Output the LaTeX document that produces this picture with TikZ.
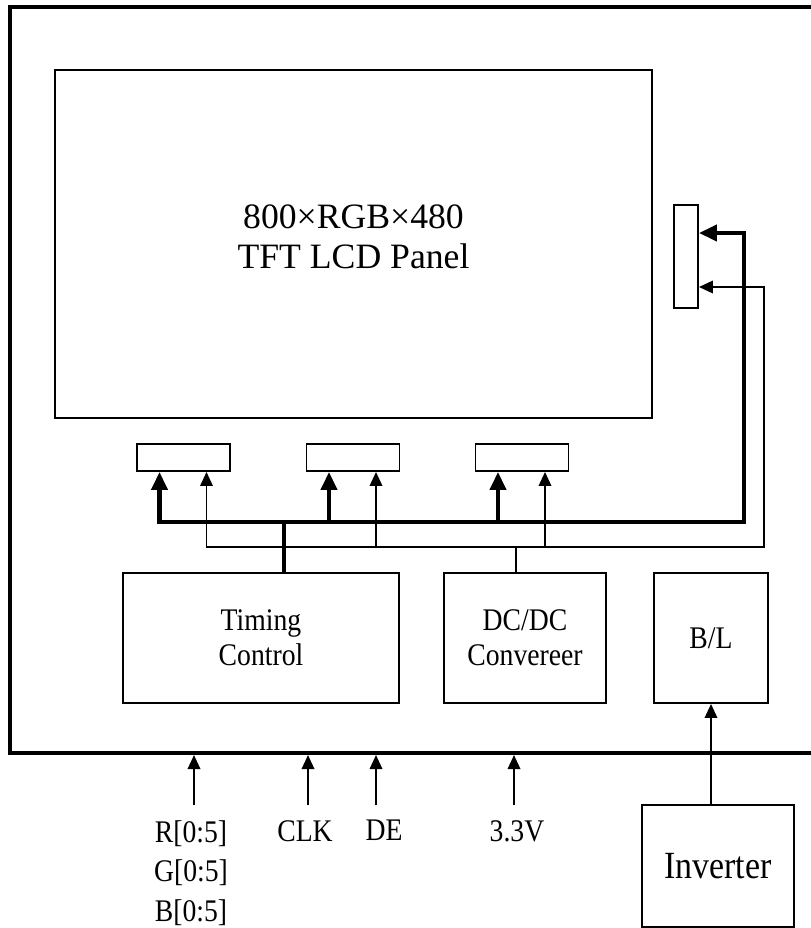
\documentclass[tikz,border=0pt]{standalone}
\usepackage{fontspec}
\setmainfont{Liberation Serif}
\newfontfamily\narrowserif[FakeStretch=0.88]{Liberation Serif}
\usetikzlibrary{arrows.meta,positioning}
\tikzset{
    box/.style={draw, line width=1.1pt, inner sep=0pt, align=center,
        font=\narrowserif\fontsize{17.9}{19.9}\selectfont},
    pad/.style={draw, line width=1.1pt, inner sep=0pt,
        minimum width=18.6mm, minimum height=5.4mm},
    lbl/.style={inner sep=0pt, align=center,
        font=\narrowserif\fontsize{17.9}{22.5}\selectfont},
    bigbus/.style={line width=2.3pt},
    smallbus/.style={line width=1.1pt},
    bigtip/.tip={Triangle[length=3.6mm,width=3.2mm]},
    smalltip/.tip={Triangle[length=2.8mm,width=2.5mm]},
}
\begin{document}
\begin{tikzpicture}[x=0.2mm, y=-0.2mm]
    \useasboundingbox (0,0) rectangle (810,928);

    % 模组外框
    \node[draw, line width=2.3pt, inner sep=0pt,
        minimum width=164mm, minimum height=149.2mm] (lcm) at (420,380) {};

    % 液晶面板
    \node[box, minimum width=119.4mm, minimum height=69.6mm] (panel) at (353.5,244) {};
    \node[lbl, font=\fontsize{20.3}{22.8}\selectfont] (paneltxt) at (353.5,237)
        {800×RGB×480\\TFT LCD Panel};

    % 背光接口
    \node[pad, minimum width=4.8mm, minimum height=20.6mm] (fpc) at (686,256.5) {};

    % 源极驱动接口
    \foreach \i/\x in {1/183.5, 2/353, 3/522}
        \node[pad] (src\i) at (\x,457.5) {};

    % 功能模块
    \node[box, minimum width=55.2mm, minimum height=26mm] (tcon) at (261,638) {Timing\\Control};
    \node[box, minimum width=32.4mm, minimum height=26mm] (dcdc) at (525,638) {DC/DC\\Convereer};
    \node[box, minimum width=22.8mm, minimum height=26mm] (bl) at (711,638) {B/L};
    \node[box, minimum width=30.4mm, minimum height=24.4mm,
        font=\narrowserif\fontsize{21.9}{24}\selectfont] (inv) at (718,866) {Inverter};

    % 总线坐标
    \coordinate (tr) at (744,522);
    \coordinate (br) at (764,547);
    \coordinate (tb) at (284,522);
    \coordinate (db) at (516,547);
    \coordinate (fpc-a) at ([yshift=4.7mm]fpc.east);
    \coordinate (fpc-b) at ([yshift=-6.1mm]fpc.east);
    \foreach \i in {1,2,3} {
        \coordinate (src\i-a) at ([xshift=-4.8mm]src\i.south);
        \coordinate (src\i-b) at ([xshift=4.6mm]src\i.south);
    }

    % 粗总线：Timing Control -> 各接口
    \draw[bigbus, bigtip-bigtip] (src1-a) -- (src1-a |- tr) -- (tr) -- (tr |- fpc-a) -- (fpc-a);
    \draw[bigbus, -bigtip] (src2-a |- tr) -- (src2-a);
    \draw[bigbus, -bigtip] (src3-a |- tr) -- (src3-a);
    \draw[bigbus] (tcon.north -| tb) -- (tb);

    % 细总线：DC/DC -> 各接口
    \draw[smallbus, smalltip-smalltip] (src1-b) -- (src1-b |- br) -- (br) -- (br |- fpc-b) -- (fpc-b);
    \draw[smallbus, -smalltip] (src2-b |- br) -- (src2-b);
    \draw[smallbus, -smalltip] (src3-b |- br) -- (src3-b);
    \draw[smallbus] (dcdc.north -| db) -- (db);

    % 逆变器 -> 背光
    \draw[smallbus, -smalltip] (bl.south |- inv.north) -- (bl.south);

    % 输入信号
    \foreach \n/\x/\dx/\t in {rgb/194/-0.6/{R[0:5]\\G[0:5]\\B[0:5]},
            clk/308/-0.6/CLK, de/376/1.6/DE, vin/514/0.6/3.3V} {
        \coordinate (\n-in) at (\x,805);
        \node[lbl, below=3mm of \n-in, xshift=\dx mm] (\n) {\t};
        \draw[smallbus, -smalltip] (\n-in) -- (\n-in |- lcm.south);
    }
\end{tikzpicture}
\end{document}
